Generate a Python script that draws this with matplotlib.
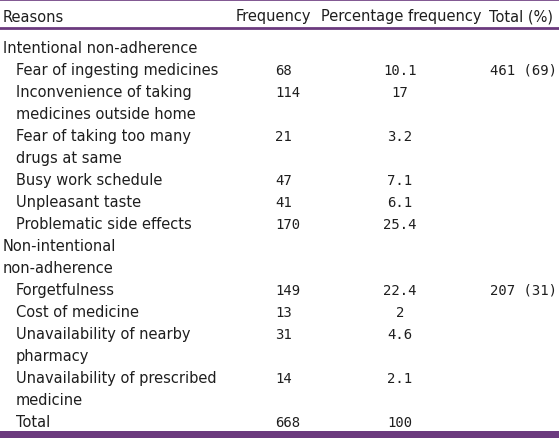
import matplotlib.pyplot as plt

# table content
headers = ["Reasons", "Frequency", "Percentage frequency", "Total (%)"]

group_names = ["Intentional non-adherence", "Non-intentional\nnon-adherence"]
group_totals = ["461 (69)", "207 (31)"]

intentional_reasons = [
    "Fear of ingesting medicines",
    "Inconvenience of taking\nmedicines outside home",
    "Fear of taking too many\ndrugs at same",
    "Busy work schedule",
    "Unpleasant taste",
    "Problematic side effects",
]
intentional_freq = [68, 114, 21, 47, 41, 170]
intentional_pct = ["10.1", "17", "3.2", "7.1", "6.1", "25.4"]

nonintentional_reasons = [
    "Forgetfulness",
    "Cost of medicine",
    "Unavailability of nearby\npharmacy",
    "Unavailability of prescribed\nmedicine",
]
nonintentional_freq = [149, 13, 31, 14]
nonintentional_pct = ["22.4", "2", "4.6", "2.1"]

total_freq = 668
total_pct = "100"

groups = [
    (group_names[0], group_totals[0], intentional_reasons, intentional_freq, intentional_pct),
    (group_names[1], group_totals[1], nonintentional_reasons, nonintentional_freq, nonintentional_pct),
]

W, H = 559, 439
purple = "#6b3a7e"
txt = "#1e1e1e"
sans = "DejaVu Sans"
mono = "DejaVu Sans Mono"
fs = 10.5
fs_num = 10

fig = plt.figure(figsize=(W / 100, H / 100), dpi=100)
ax = fig.add_axes([0, 0, 1, 1])
ax.set_xlim(0, W)
ax.set_ylim(H, 0)
ax.axis("off")

x_reason, x_indent, x_freq, x_pct, x_total = 3, 16, 275, 400, 490
first_base, step = 53, 22

# header
ax.text(x_reason, 21.5, headers[0], fontsize=fs, family=sans, color=txt)
ax.text(236, 21.5, headers[1], fontsize=fs, family=sans, color=txt)
ax.text(321, 21.5, headers[2], fontsize=fs, family=sans, color=txt)
ax.text(489, 21.5, headers[3], fontsize=fs, family=sans, color=txt)

row = 0
for name, gtotal, reasons, freqs, pcts in groups:
    for line in name.split("\n"):
        ax.text(x_reason, first_base + step * row, line, fontsize=fs, family=sans, color=txt)
        row += 1
    for i, (r, f, p) in enumerate(zip(reasons, freqs, pcts)):
        y = first_base + step * row
        ax.text(x_freq, y, str(f), fontsize=fs_num, family=mono, color=txt)
        ax.text(x_pct, y, p, fontsize=fs_num, family=mono, color=txt, ha="center")
        if i == 0:
            ax.text(x_total, y, gtotal, fontsize=fs_num, family=mono, color=txt)
        for line in r.split("\n"):
            ax.text(x_indent, first_base + step * row, line, fontsize=fs, family=sans, color=txt)
            row += 1

y = first_base + step * row
ax.text(x_indent, y, "Total", fontsize=fs, family=sans, color=txt)
ax.text(x_freq, y, str(total_freq), fontsize=fs_num, family=mono, color=txt)
ax.text(x_pct, y, total_pct, fontsize=fs_num, family=mono, color=txt, ha="center")

# rules
ax.axhline(0.7, color=purple, lw=1.2)
ax.axhline(28.5, color=purple, lw=2.0)
ax.axhspan(432.5, 439, color=purple, lw=0)

fig.savefig("out.png", dpi=100)
